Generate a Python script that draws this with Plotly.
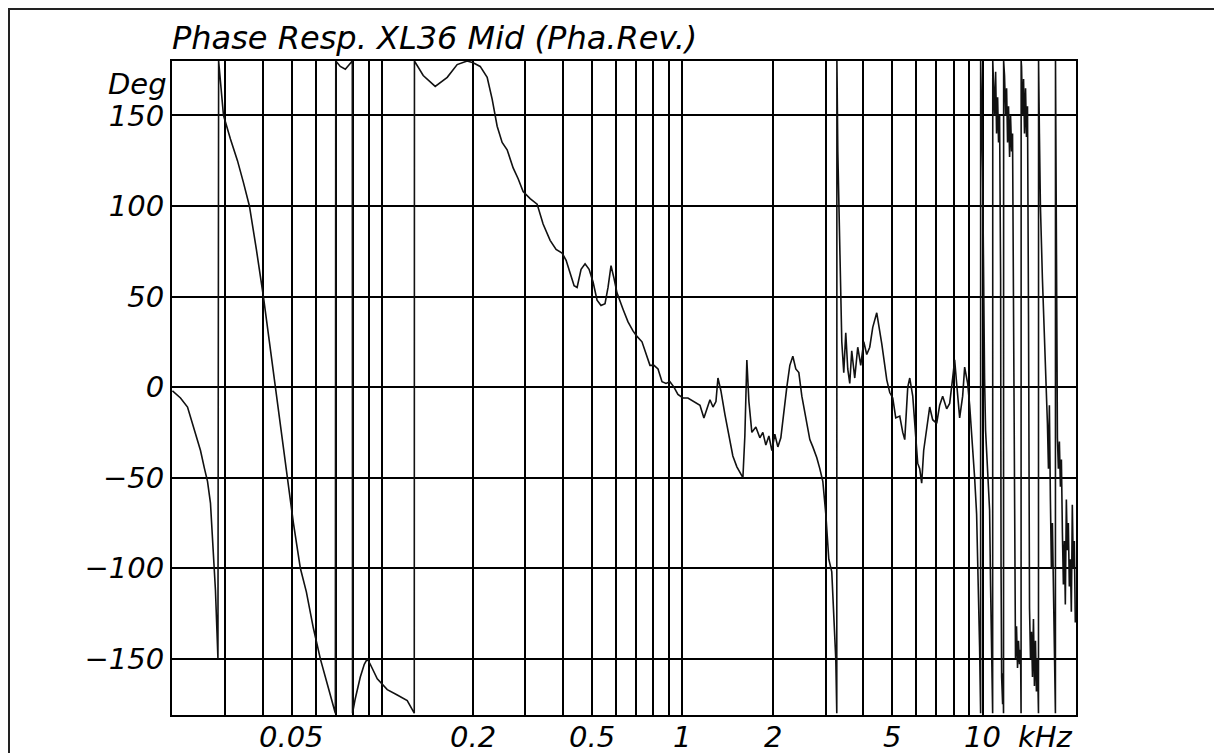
import math
import plotly.graph_objects as go

# ---- data ----
freq_khz = [
    0.0200, 0.02127, 0.02245, 0.0235, 0.0248, 0.02557, 0.02617, 0.02677, 0.0274, 0.02781,
    0.02814, 0.02835, 0.0285, 0.0289, 0.02958, 0.0312, 0.03293, 0.03446, 0.03609, 0.03807,
    0.04018, 0.04207, 0.04405, 0.04612, 0.04829, 0.05057, 0.05335, 0.05586, 0.05894, 0.06219,
    0.06611, 0.06976, 0.0700, 0.07248, 0.07531, 0.07825, 0.07946, 0.0796, 0.08128, 0.08449,
    0.08711, 0.08913, 0.0912, 0.09624, 0.1039, 0.1122, 0.1211, 0.1278, 0.128, 0.1369,
    0.1501, 0.1646, 0.1776, 0.1918, 0.2008, 0.2119, 0.2236, 0.2323, 0.2414, 0.2508,
    0.2606, 0.2729, 0.2836, 0.2946, 0.3109, 0.328, 0.3434, 0.3624, 0.3793, 0.3972,
    0.4097, 0.4224, 0.4356, 0.4457, 0.4595, 0.4738, 0.4886, 0.5038, 0.5194, 0.5355,
    0.5522, 0.565, 0.5782, 0.5916, 0.6053, 0.6339, 0.6587, 0.6843, 0.7056, 0.7332,
    0.7618, 0.7795, 0.804, 0.829, 0.855, 0.8814, 0.9088, 0.9369, 0.966, 1.004,
    1.043, 1.092, 1.144, 1.179, 1.206, 1.235, 1.264, 1.293, 1.313, 1.343,
    1.385, 1.428, 1.472, 1.518, 1.554, 1.59, 1.614, 1.639, 1.665, 1.703,
    1.756, 1.811, 1.853, 1.896, 1.941, 1.986, 2.031, 2.079, 2.127, 2.177,
    2.227, 2.279, 2.332, 2.386, 2.442, 2.499, 2.576, 2.657, 2.719, 2.803,
    2.868, 2.935, 3.003, 3.073, 3.144, 3.193, 3.242, 3.267, 3.27, 3.293,
    3.318, 3.343, 3.395, 3.447, 3.5, 3.554, 3.609, 3.664, 3.75, 3.837,
    3.926, 4.018, 4.111, 4.207, 4.305, 4.439, 4.508, 4.613, 4.721, 4.794,
    4.905, 5.019, 5.136, 5.296, 5.419, 5.503, 5.631, 5.718, 5.851, 5.984,
    6.077, 6.171, 6.266, 6.363, 6.511, 6.663, 6.818, 7.03, 7.194, 7.361,
    7.59, 7.767, 7.947, 8.07, 8.194, 8.385, 8.58, 8.713, 8.848, 8.916,
    9.054, 9.194, 9.406, 9.55, 9.698, 9.772, 9.847, 9.85, 10.0, 10.08,
    10.15, 10.23, 10.39, 10.55, 10.63, 10.71, 10.8, 10.81, 10.88, 10.96,
    11.05, 11.13, 11.22, 11.3, 11.39, 11.48, 11.52, 11.57, 11.66, 11.7,
    11.74, 11.75, 11.83, 11.93, 12.02, 12.11, 12.2, 12.3, 12.39, 12.49,
    12.58, 12.68, 12.78, 12.87, 12.97, 13.07, 13.17, 13.27, 13.38, 13.43,
    13.44, 13.48, 13.58, 13.69, 13.79, 13.9, 14.0, 14.11, 14.22, 14.33,
    14.44, 14.55, 14.66, 14.77, 14.88, 15.0, 15.11, 15.23, 15.35, 15.36,
    15.46, 15.58, 15.82, 16.07, 16.32, 16.44, 16.57, 16.69, 16.82, 16.95,
    17.08, 17.21, 17.34, 17.48, 17.49, 17.61, 17.75, 17.88, 18.02, 18.16,
    18.3, 18.44, 18.58, 18.72, 18.86, 19.01, 19.15, 19.3, 19.45, 19.6,
    19.75, 19.9, 20.05, 20.21, 20.36,
]
phase_deg = [
    -2, -6, -11, -22, -35, -45, -52, -64, -90, -112,
    -135, -150, 180, 170, 150, 137, 125, 113, 100, 76,
    50, 25, 0, -25, -50, -75, -100, -113, -133, -150,
    -166, -180, 180, 177, 175.5, 179, 180, -180, -172, -160,
    -153, -150, -153, -161, -167, -170, -173, -180, 180, 172,
    166, 171, 178, 180, 179, 177, 171, 159, 144, 135,
    131, 121, 115, 108, 104, 101, 90, 81, 76, 74,
    70, 63, 56, 55, 65, 68, 65, 58, 48, 45,
    46, 55, 67, 60, 52, 43, 36, 31, 28, 25,
    17, 12, 12, 10, 3, 2, 3, 0, -4, -6,
    -6, -8, -10, -17, -12, -7, -11, -8, 5, -2,
    -15, -27, -38, -44, -47, -50, -27, 15, -8, -25,
    -22, -28, -25, -32, -27, -35, -26, -33, -28, -12,
    0, 12, 17, 10, 8, -5, -18, -29, -33, -39,
    -45, -52, -70, -95, -102, -125, -150, -180, 180, 130,
    100, 67, 25, 8, 30, 10, 2, 20, 5, 22,
    12, 25, 18, 22, 33, 41, 35, 24, 12, 4,
    -3, -6, -17, -16, -25, -29, 0, 5, -5, -25,
    -42, -45, -53, -35, -22, -11, -18, -20, -10, -5,
    -12, -9, 5, 15, 2, -17, -5, 11, 5, 2,
    -10, -24, -50, -70, -110, -144, -180, 180, 120, 40,
    5, -24, -45, -68, -110, -150, -180, 180, 170, 150,
    174, 140, 160, 135, 150, 60, -100, -160, -175, -158,
    -180, 180, 172, 150, 165, 135, 155, 127, 150, 130,
    140, 20, -127, -150, -132, -155, -140, -153, -145, -180,
    180, 177, 150, 170, 140, 165, 138, 155, 40, -122,
    -150, -135, -160, -128, -165, -140, -168, -150, -180, 180,
    140, 100, 60, 25, 2, -20, -45, -10, -62, -100,
    -75, -107, -150, -180, 180, 90, -28, -45, -30, -55,
    -40, -80, -109, -85, -120, -62, -90, -75, -110, -95,
    -124, -65, -100, -85, -130,
]

x_grid = [0.03, 0.04, 0.05, 0.06, 0.07, 0.08, 0.09,
          0.1, 0.2, 0.3, 0.4, 0.5, 0.6, 0.7, 0.8, 0.9,
          1, 2, 3, 4, 5, 6, 7, 8, 9, 10]
x_label_vals = [0.05, 0.2, 0.5, 1, 2, 5, 10]
x_label_text = ["0.05", "0.2", "0.5", "1", "2", "5", "10"]
y_ticks = [-150, -100, -50, 0, 50, 100, 150]

title_text = "Phase Resp. XL36 Mid (Pha.Rev.)"
y_unit = "Deg"
x_unit = "kHz"

FONT = dict(family="DejaVu Sans", size=29, color="black", style="italic")
TITLE_FONT = dict(family="DejaVu Sans", size=32, color="black", style="italic")

fig = go.Figure()
fig.add_trace(go.Scatter(
    x=freq_khz, y=phase_deg, mode="lines",
    line=dict(color="#111111", width=1.6),
    hoverinfo="skip",
))

W, H = 1214, 753
ml, mr, mt, mb = 172, 138, 61, 38
pw, ph = W - ml - mr, H - mt - mb

def px_x(p):
    return (p - ml) / pw

def px_y(p):
    return (H - mb - p) / ph

annotations = [
    dict(text=title_text, xref="paper", yref="paper",
         x=px_x(170), y=px_y(38), xanchor="left", yanchor="middle",
         showarrow=False, font=TITLE_FONT),
    dict(text=y_unit, xref="paper", yref="paper",
         x=px_x(169), y=px_y(84), xanchor="right", yanchor="middle",
         showarrow=False, font=FONT),
    dict(text=x_unit, xref="paper", yref="paper",
         x=px_x(1016), y=px_y(737), xanchor="left", yanchor="middle",
         showarrow=False, font=FONT),
]
for v, t in zip(x_label_vals, x_label_text):
    annotations.append(dict(
        text=t, xref="x", yref="paper", x=math.log10(v), y=px_y(737),
        xanchor="center", yanchor="middle", showarrow=False, font=FONT,
    ))

fig.update_layout(
    width=W, height=H,
    margin=dict(l=ml, r=mr, t=mt, b=mb, pad=0, autoexpand=False),
    paper_bgcolor="white", plot_bgcolor="white",
    showlegend=False,
    font=FONT,
    xaxis=dict(
        type="log", range=[-1.7005, 1.3111], automargin=False,
        tickmode="array", tickvals=x_grid, showticklabels=False,
        showgrid=True, gridcolor="black", gridwidth=2,
        showline=True, mirror=True, linecolor="black", linewidth=2,
        ticks="", zeroline=False,
    ),
    yaxis=dict(
        range=[-181, 180], automargin=False,
        tickmode="array", tickvals=y_ticks,
        showgrid=True, gridcolor="black", gridwidth=2,
        showline=True, mirror=True, linecolor="black", linewidth=2,
        ticks="", tickfont=FONT, zeroline=False,
        ticklabelstandoff=0,
    ),
    shapes=[dict(
        type="rect", xref="paper", yref="paper",
        x0=px_x(9), x1=px_x(1300), y0=px_y(900), y1=px_y(9),
        line=dict(color="#222222", width=2), fillcolor="rgba(0,0,0,0)",
    )],
    annotations=annotations,
)

fig.write_html("out.html")
